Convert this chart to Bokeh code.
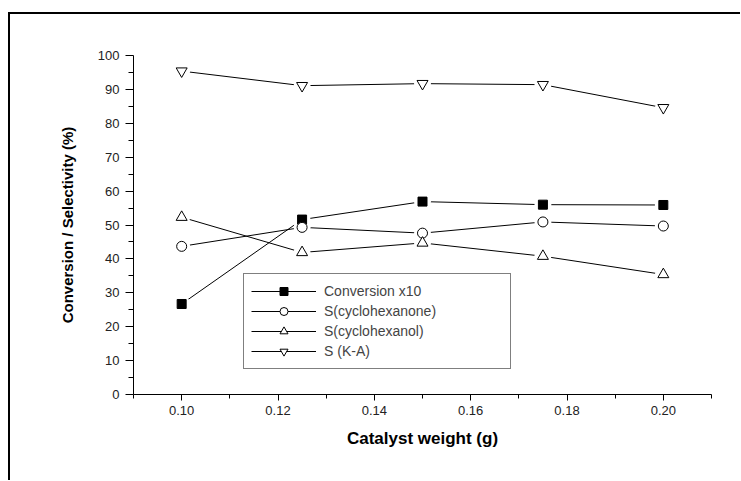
from bokeh.plotting import figure
from bokeh.models import Legend, LegendItem, FixedTicker, Range1d
from bokeh.embed import file_html
from bokeh.resources import INLINE

# ---- data ----
catalyst_weight = [0.10, 0.125, 0.15, 0.175, 0.20]
conversion_x10 = [26.7, 51.6, 56.9, 56.0, 55.9]
s_cyclohexanone = [43.7, 49.3, 47.6, 50.9, 49.7]
s_cyclohexanol = [52.3, 41.9, 44.7, 40.8, 35.4]
s_ka = [95.4, 91.1, 91.7, 91.4, 84.6]

x_ticks = [0.10, 0.12, 0.14, 0.16, 0.18, 0.20]
x_minor = [0.09, 0.11, 0.13, 0.15, 0.17, 0.19, 0.21]
y_ticks = [0, 10, 20, 30, 40, 50, 60, 70, 80, 90, 100]
y_minor = [5, 15, 25, 35, 45, 55, 65, 75, 85, 95]

FONT = "Liberation Sans"

p = figure(width=730, height=466, output_backend="svg", toolbar_location=None,
           x_range=Range1d(0.09, 0.21), y_range=Range1d(0, 100),
           min_border_left=123, min_border_right=31, min_border_top=41,
           min_border_bottom=88)
p.styles = {"border-top": "2px solid black", "border-left": "2px solid black",
            "margin-top": "12px", "margin-left": "8px", "box-sizing": "content-box"}
p.outline_line_color = None
p.grid.visible = False
p.background_fill_color = "white"
p.border_fill_color = "white"

for ax in (p.xaxis[0], p.yaxis[0]):
    ax.axis_line_color = "black"
    ax.axis_line_width = 1
    ax.major_tick_line_color = "black"
    ax.minor_tick_line_color = "black"
    ax.major_tick_in = 0
    ax.minor_tick_in = 0
    ax.major_label_text_font = FONT
    ax.major_label_text_font_size = "13px"
    ax.major_label_text_color = "#222222"
    ax.axis_label_text_font = FONT
    ax.axis_label_text_font_style = "bold"
    ax.axis_label_text_color = "black"

p.xaxis[0].ticker = FixedTicker(ticks=x_ticks, minor_ticks=x_minor)
p.xaxis[0].major_label_overrides = {t: f"{t:.2f}" for t in x_ticks}
p.xaxis[0].major_tick_out = 6
p.xaxis[0].minor_tick_out = 4
p.xaxis[0].major_label_standoff = 5
p.xaxis[0].axis_label = "Catalyst weight (g)"
p.xaxis[0].axis_label_text_font_size = "17px"
p.xaxis[0].axis_label_standoff = 11

p.yaxis[0].ticker = FixedTicker(ticks=y_ticks, minor_ticks=y_minor)
p.yaxis[0].major_tick_out = 8
p.yaxis[0].minor_tick_out = 5
p.yaxis[0].major_label_standoff = 6
p.yaxis[0].axis_label = "Conversion / Selectivity (%)"
p.yaxis[0].axis_label_text_font_size = "15px"
p.yaxis[0].axis_label_standoff = 19

series = [
    ("Conversion x10", conversion_x10, "square", 9, "black"),
    ("S(cyclohexanone)", s_cyclohexanone, "circle", 10, "white"),
    ("S(cyclohexanol)", s_cyclohexanol, "triangle", 11, "white"),
    ("S (K-A)", s_ka, "inverted_triangle", 11, "white"),
]

lines = []
for name, ys, mk, sz, fill in series:
    lines.append(p.line(catalyst_weight, ys, line_color="black", line_width=1))
for name, ys, mk, sz, fill in series:
    p.scatter(catalyst_weight, ys, marker="circle", size=17,
              fill_color="white", line_color=None)
marks = []
for name, ys, mk, sz, fill in series:
    marks.append(p.scatter(catalyst_weight, ys, marker=mk, size=sz,
                           fill_color=fill, line_color="black", line_width=1))

items = [LegendItem(label=s[0], renderers=[l, m]) for s, l, m in zip(series, lines, marks)]
legend = Legend(items=items, location=(110, 25),
                border_line_color="black", border_line_width=1,
                background_fill_color="white", background_fill_alpha=1,
                label_text_font=FONT, label_text_font_size="14px",
                glyph_width=65, glyph_height=20, label_height=20,
                label_width=179, spacing=0, padding=7, label_standoff=8,
                margin=0)
p.add_layout(legend, "center")

open("out.html", "w").write(file_html(p, INLINE))
